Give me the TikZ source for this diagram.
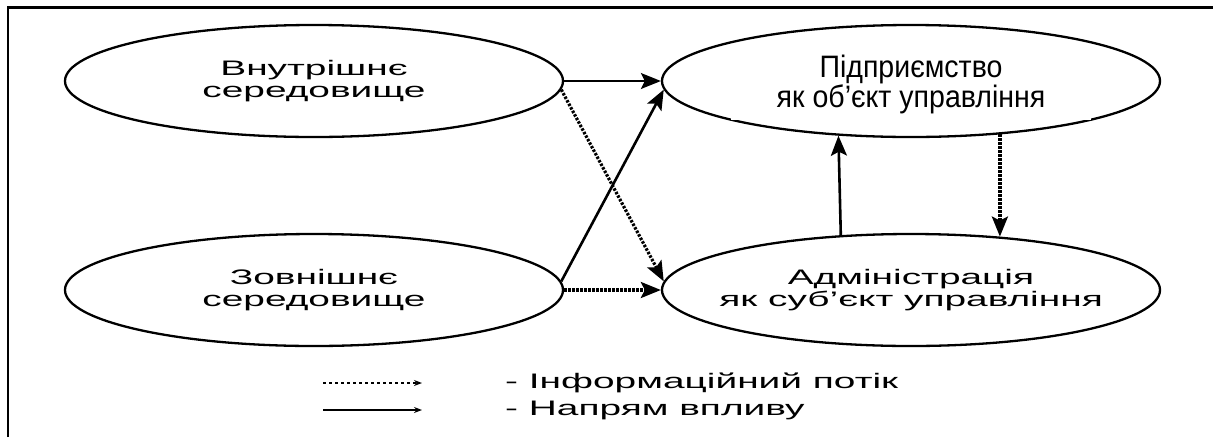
\documentclass[tikz,border=0pt]{standalone}
\usepackage{fontspec}
\setmainfont{Liberation Sans}
\newfontfamily\widefont[FakeStretch=1.85]{Liberation Sans}
\newfontfamily\firmfont[FakeStretch=0.92]{Liberation Sans}
\usetikzlibrary{shapes.geometric,arrows.meta}
\begin{document}
\begin{tikzpicture}[x=1pt, y=-1pt, node distance={597pt},
  main/.style = {draw, ellipse, line width=2.3pt, minimum width=498pt, minimum height=112pt, inner xsep=-50pt, inner ysep=0pt, align=center, font=\widefont\fontsize{21}{22}\selectfont},
  firmtext/.style = {fill=white, inner sep=0pt, minimum width=360pt, minimum height=72pt, align=center, font=\firmfont\fontsize{31}{30}\selectfont},
  legend/.style = {anchor=west, inner sep=0pt, font=\widefont\fontsize{21}{22}\selectfont},
  influence/.style = {line width=2.6pt, -{Stealth[length=20pt, width=16pt, inset=4pt]}},
  weak/.style = {line width=1.6pt, -{Stealth[length=20pt, width=16pt, inset=4pt]}},
  info/.style = {line width=3.2pt, dash pattern=on 2.5pt off 1.5pt, -{Stealth[length=20pt, width=16pt, inset=4pt]}},
  keyinfo/.style = {line width=2pt, dash pattern=on 3pt off 3pt, -{Stealth[length=8pt, width=6pt]}},
  keyinfluence/.style = {line width=2pt, -{Stealth[length=8pt, width=6pt]}}]
\useasboundingbox (0,0) rectangle (1213,437);
\draw[line width=2.2pt] (8,437) -- (8,7.5) -- (1213,7.5);

\node[main] (inner) at (314,81) {Внутрішнє\\середовище};
\node[main] (firm) [right of=inner] {};
\node[main] (outer) [below of=inner, node distance={209pt}] {Зовнішнє\\середовище};
\node[main] (admin) [right of=outer] {Адміністрація\\як суб’єкт управління};
\node[firmtext] (firmlabel) at (911,84) {Підприємство\\як об’єкт управління};

\draw[weak] (inner.east) -- (firm.west);
\draw[info] (inner.-2) -- (admin.178);
\draw[influence] (outer.2) -- (firm.182);
\draw[info] (outer.east) -- (admin.west);
\draw[influence] (admin.142.5) -- (firm.217.5);
\draw[info] (firm.-31.4) -- (admin.31.4);

\node[legend] (infokey) at (505,383) {- Інформаційний потік};
\node[legend] (influencekey) at (505,410) {- Напрям впливу};
\coordinate (info1) at (323,383);
\coordinate (info2) at (422,383);
\coordinate (influence1) at (323,410);
\coordinate (influence2) at (422,410);
\draw[keyinfo] (info1) -- (info2);
\draw[keyinfluence] (influence1) -- (influence2);
\end{tikzpicture}
\end{document}
